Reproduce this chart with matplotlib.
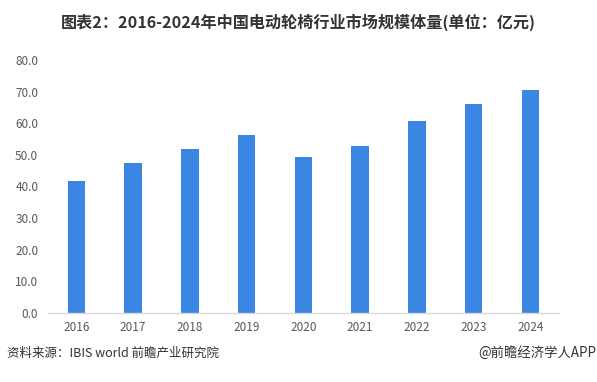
import matplotlib.pyplot as plt

plt.rcParams['font.family'] = ['Noto Sans CJK SC', 'DejaVu Sans']

years = ['2016', '2017', '2018', '2019', '2020', '2021', '2022', '2023', '2024']
market_size = [41.7, 47.5, 51.9, 56.3, 49.3, 52.8, 60.7, 66.1, 70.5]
y_ticks = [0, 10, 20, 30, 40, 50, 60, 70, 80]

fig = plt.figure(figsize=(5.97, 3.82), dpi=100)
ax = fig.add_axes([0.0804, 0.1806, 0.8556, 0.6624])

ax.bar(range(len(years)), market_size, width=0.31, color='#3b86e3')

ax.set_xlim(-0.5, len(years) - 0.5)
ax.set_ylim(0, 80)
ax.set_yticks(y_ticks)
ax.set_yticklabels([f'{v:.1f}' for v in y_ticks])
ax.set_xticks(range(len(years)))
ax.set_xticklabels(years)

for side in ['top', 'right', 'left']:
    ax.spines[side].set_visible(False)
ax.spines['bottom'].set_color('#d9d9d9')
ax.spines['bottom'].set_linewidth(1.0)
ax.tick_params(axis='both', length=0, labelsize=8.5, labelcolor='#595959')
ax.tick_params(axis='y', pad=7)
ax.tick_params(axis='x', pad=6)

fig.text(0.499, 0.942, '图表2：2016-2024年中国电动轮椅行业市场规模体量(单位：亿元)',
         ha='center', va='center', fontsize=11.6, fontweight='bold', color='#333333')
fig.text(0.012, 0.076, '资料来源：IBIS world 前瞻产业研究院',
         ha='left', va='center', fontsize=9, color='#333333')
fig.text(0.999, 0.076, '@前瞻经济学人APP',
         ha='right', va='center', fontsize=9.6, color='#333333')

fig.savefig('out.png', dpi=100)
